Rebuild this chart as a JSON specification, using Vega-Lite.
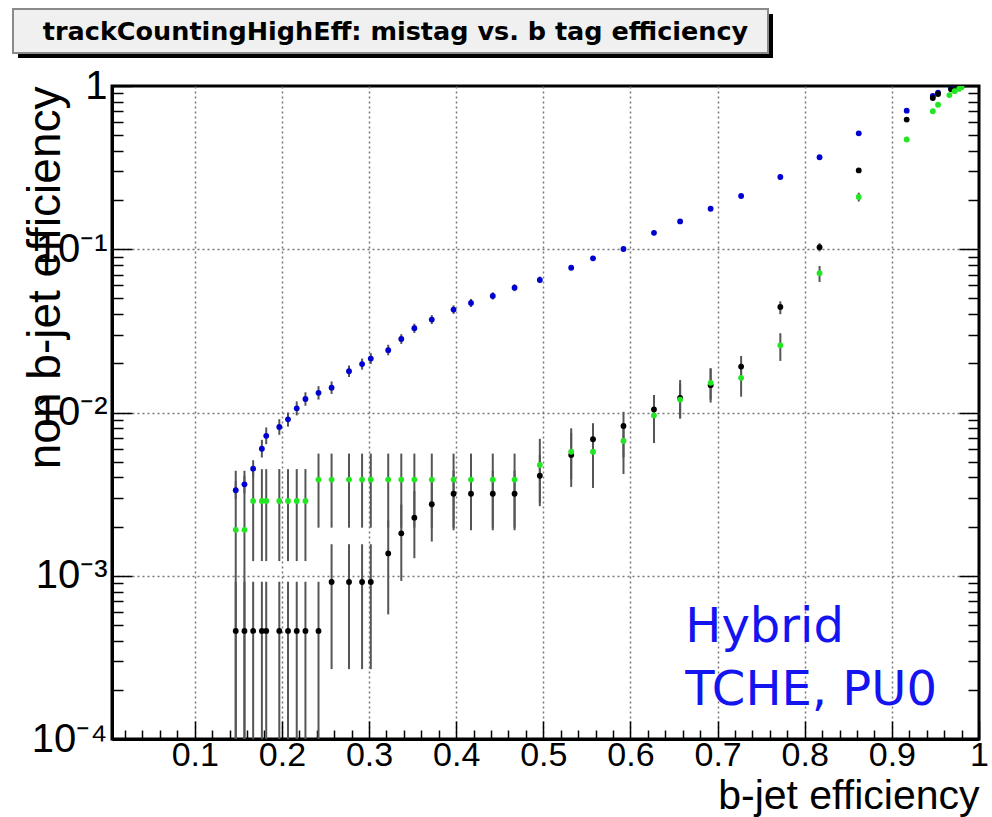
{
  "$schema": "https://vega.github.io/schema/vega-lite/v6.json",
  "background": "white",
  "padding": {"left": 12, "top": 8, "right": 5, "bottom": 0},
  "spacing": 6,
  "config": {"view": {"stroke": null}, "font": "Liberation Sans"},
  "datasets": {
    "pts": [
      {"s": "blue", "x": 0.147, "y": 0.00334, "lo": 0.00295, "hi": 0.0038},
      {"s": "blue", "x": 0.157, "y": 0.00363, "lo": 0.0032, "hi": 0.0041},
      {"s": "blue", "x": 0.167, "y": 0.00453, "lo": 0.004, "hi": 0.0051},
      {"s": "blue", "x": 0.177, "y": 0.006, "lo": 0.0053, "hi": 0.0068},
      {"s": "blue", "x": 0.182, "y": 0.0072, "lo": 0.0064, "hi": 0.0081},
      {"s": "blue", "x": 0.197, "y": 0.00815, "lo": 0.0073, "hi": 0.0091},
      {"s": "blue", "x": 0.207, "y": 0.00908, "lo": 0.0082, "hi": 0.01},
      {"s": "blue", "x": 0.217, "y": 0.0106, "lo": 0.0096, "hi": 0.0117},
      {"s": "blue", "x": 0.227, "y": 0.0121, "lo": 0.011, "hi": 0.0133},
      {"s": "blue", "x": 0.242, "y": 0.0132, "lo": 0.012, "hi": 0.0145},
      {"s": "blue", "x": 0.257, "y": 0.0142, "lo": 0.013, "hi": 0.0155},
      {"s": "blue", "x": 0.277, "y": 0.0179, "lo": 0.0165, "hi": 0.0194},
      {"s": "blue", "x": 0.292, "y": 0.0198, "lo": 0.0183, "hi": 0.0214},
      {"s": "blue", "x": 0.302, "y": 0.0214, "lo": 0.0198, "hi": 0.0231},
      {"s": "blue", "x": 0.322, "y": 0.0241, "lo": 0.0224, "hi": 0.026},
      {"s": "blue", "x": 0.337, "y": 0.0282, "lo": 0.0263, "hi": 0.0302},
      {"s": "blue", "x": 0.352, "y": 0.0328, "lo": 0.0307, "hi": 0.035},
      {"s": "blue", "x": 0.372, "y": 0.0371, "lo": 0.0348, "hi": 0.0395},
      {"s": "blue", "x": 0.397, "y": 0.0427, "lo": 0.0402, "hi": 0.0453},
      {"s": "blue", "x": 0.417, "y": 0.0469, "lo": 0.0443, "hi": 0.0496},
      {"s": "blue", "x": 0.442, "y": 0.0518, "lo": 0.0492, "hi": 0.0545},
      {"s": "blue", "x": 0.467, "y": 0.0582, "lo": 0.0554, "hi": 0.061},
      {"s": "blue", "x": 0.496, "y": 0.0649, "lo": 0.062, "hi": 0.068},
      {"s": "blue", "x": 0.532, "y": 0.0771, "lo": 0.074, "hi": 0.08},
      {"s": "blue", "x": 0.557, "y": 0.088, "lo": 0.085, "hi": 0.091},
      {"s": "blue", "x": 0.592, "y": 0.1004, "lo": 0.097, "hi": 0.104},
      {"s": "blue", "x": 0.627, "y": 0.126, "lo": 0.122, "hi": 0.13},
      {"s": "blue", "x": 0.657, "y": 0.148, "lo": 0.144, "hi": 0.152},
      {"s": "blue", "x": 0.692, "y": 0.177, "lo": 0.172, "hi": 0.182},
      {"s": "blue", "x": 0.727, "y": 0.212, "lo": 0.207, "hi": 0.217},
      {"s": "blue", "x": 0.772, "y": 0.277, "lo": 0.271, "hi": 0.283},
      {"s": "blue", "x": 0.817, "y": 0.366, "lo": 0.36, "hi": 0.372},
      {"s": "blue", "x": 0.862, "y": 0.513, "lo": 0.506, "hi": 0.52},
      {"s": "blue", "x": 0.917, "y": 0.706, "lo": 0.698, "hi": 0.714},
      {"s": "blue", "x": 0.947, "y": 0.87, "lo": 0.862, "hi": 0.878},
      {"s": "blue", "x": 0.953, "y": 0.91, "lo": 0.903, "hi": 0.917},
      {"s": "blue", "x": 0.968, "y": 0.965, "lo": 0.96, "hi": 0.97},
      {"s": "blue", "x": 0.975, "y": 0.985, "lo": 0.981, "hi": 0.989},
      {"s": "blue", "x": 0.98, "y": 0.995, "lo": 0.992, "hi": 0.998},

      {"s": "black", "x": 0.147, "y": 0.000459, "lo": 0.00001, "hi": 0.00092},
      {"s": "black", "x": 0.157, "y": 0.000459, "lo": 0.00001, "hi": 0.00092},
      {"s": "black", "x": 0.167, "y": 0.000459, "lo": 0.00001, "hi": 0.00092},
      {"s": "black", "x": 0.177, "y": 0.000459, "lo": 0.00001, "hi": 0.00092},
      {"s": "black", "x": 0.182, "y": 0.000459, "lo": 0.00001, "hi": 0.00092},
      {"s": "black", "x": 0.197, "y": 0.000459, "lo": 0.00001, "hi": 0.00092},
      {"s": "black", "x": 0.207, "y": 0.000459, "lo": 0.00001, "hi": 0.00092},
      {"s": "black", "x": 0.217, "y": 0.000459, "lo": 0.00001, "hi": 0.00092},
      {"s": "black", "x": 0.227, "y": 0.000459, "lo": 0.00001, "hi": 0.00092},
      {"s": "black", "x": 0.242, "y": 0.000459, "lo": 0.00001, "hi": 0.00092},
      {"s": "black", "x": 0.257, "y": 0.000916, "lo": 0.000268, "hi": 0.00156},
      {"s": "black", "x": 0.277, "y": 0.000916, "lo": 0.000268, "hi": 0.00156},
      {"s": "black", "x": 0.292, "y": 0.000916, "lo": 0.000268, "hi": 0.00156},
      {"s": "black", "x": 0.302, "y": 0.000916, "lo": 0.000268, "hi": 0.00156},
      {"s": "black", "x": 0.322, "y": 0.00137, "lo": 0.00058, "hi": 0.00218},
      {"s": "black", "x": 0.337, "y": 0.00182, "lo": 0.00093, "hi": 0.00273},
      {"s": "black", "x": 0.352, "y": 0.00227, "lo": 0.00128, "hi": 0.0033},
      {"s": "black", "x": 0.372, "y": 0.00274, "lo": 0.00162, "hi": 0.00385},
      {"s": "black", "x": 0.397, "y": 0.00318, "lo": 0.0019, "hi": 0.0044},
      {"s": "black", "x": 0.417, "y": 0.00318, "lo": 0.0019, "hi": 0.0044},
      {"s": "black", "x": 0.442, "y": 0.00318, "lo": 0.0019, "hi": 0.0044},
      {"s": "black", "x": 0.467, "y": 0.00318, "lo": 0.0019, "hi": 0.0044},
      {"s": "black", "x": 0.496, "y": 0.0041, "lo": 0.00267, "hi": 0.0055},
      {"s": "black", "x": 0.532, "y": 0.0055, "lo": 0.0035, "hi": 0.008},
      {"s": "black", "x": 0.557, "y": 0.00686, "lo": 0.0043, "hi": 0.0086},
      {"s": "black", "x": 0.592, "y": 0.00827, "lo": 0.0053, "hi": 0.0101},
      {"s": "black", "x": 0.627, "y": 0.01045, "lo": 0.0075, "hi": 0.0128},
      {"s": "black", "x": 0.657, "y": 0.0123, "lo": 0.0092, "hi": 0.0158},
      {"s": "black", "x": 0.692, "y": 0.0147, "lo": 0.0115, "hi": 0.0187},
      {"s": "black", "x": 0.727, "y": 0.0191, "lo": 0.016, "hi": 0.0222},
      {"s": "black", "x": 0.772, "y": 0.0443, "lo": 0.04, "hi": 0.048},
      {"s": "black", "x": 0.817, "y": 0.103, "lo": 0.097, "hi": 0.109},
      {"s": "black", "x": 0.862, "y": 0.304, "lo": 0.294, "hi": 0.314},
      {"s": "black", "x": 0.917, "y": 0.623, "lo": 0.61, "hi": 0.636},
      {"s": "black", "x": 0.947, "y": 0.844, "lo": 0.835, "hi": 0.853},
      {"s": "black", "x": 0.953, "y": 0.893, "lo": 0.885, "hi": 0.901},
      {"s": "black", "x": 0.968, "y": 0.955, "lo": 0.95, "hi": 0.96},
      {"s": "black", "x": 0.975, "y": 0.975, "lo": 0.971, "hi": 0.979},
      {"s": "black", "x": 0.98, "y": 0.99, "lo": 0.987, "hi": 0.993},

      {"s": "green", "x": 0.147, "y": 0.00191, "lo": 0.00001, "hi": 0.0044},
      {"s": "green", "x": 0.157, "y": 0.00191, "lo": 0.00001, "hi": 0.0044},
      {"s": "green", "x": 0.167, "y": 0.00287, "lo": 0.00123, "hi": 0.0045},
      {"s": "green", "x": 0.177, "y": 0.00287, "lo": 0.00123, "hi": 0.0045},
      {"s": "green", "x": 0.182, "y": 0.00287, "lo": 0.00123, "hi": 0.0045},
      {"s": "green", "x": 0.197, "y": 0.00287, "lo": 0.00123, "hi": 0.0045},
      {"s": "green", "x": 0.207, "y": 0.00287, "lo": 0.00123, "hi": 0.0045},
      {"s": "green", "x": 0.217, "y": 0.00287, "lo": 0.00123, "hi": 0.0045},
      {"s": "green", "x": 0.227, "y": 0.00287, "lo": 0.00123, "hi": 0.0045},
      {"s": "green", "x": 0.242, "y": 0.00388, "lo": 0.00197, "hi": 0.0056},
      {"s": "green", "x": 0.257, "y": 0.00388, "lo": 0.00197, "hi": 0.0056},
      {"s": "green", "x": 0.277, "y": 0.00388, "lo": 0.00197, "hi": 0.0056},
      {"s": "green", "x": 0.292, "y": 0.00388, "lo": 0.00197, "hi": 0.0056},
      {"s": "green", "x": 0.302, "y": 0.00388, "lo": 0.00197, "hi": 0.0056},
      {"s": "green", "x": 0.322, "y": 0.00388, "lo": 0.00197, "hi": 0.0056},
      {"s": "green", "x": 0.337, "y": 0.00388, "lo": 0.00197, "hi": 0.0056},
      {"s": "green", "x": 0.352, "y": 0.00388, "lo": 0.00197, "hi": 0.0056},
      {"s": "green", "x": 0.372, "y": 0.00388, "lo": 0.00197, "hi": 0.0056},
      {"s": "green", "x": 0.397, "y": 0.00388, "lo": 0.00197, "hi": 0.0056},
      {"s": "green", "x": 0.417, "y": 0.00388, "lo": 0.00197, "hi": 0.0056},
      {"s": "green", "x": 0.442, "y": 0.00388, "lo": 0.00197, "hi": 0.0056},
      {"s": "green", "x": 0.467, "y": 0.00388, "lo": 0.00197, "hi": 0.0056},
      {"s": "green", "x": 0.496, "y": 0.00477, "lo": 0.0028, "hi": 0.0069},
      {"s": "green", "x": 0.532, "y": 0.00575, "lo": 0.0039, "hi": 0.0075},
      {"s": "green", "x": 0.557, "y": 0.00575, "lo": 0.00345, "hi": 0.0078},
      {"s": "green", "x": 0.592, "y": 0.00669, "lo": 0.0042, "hi": 0.0085},
      {"s": "green", "x": 0.627, "y": 0.0096, "lo": 0.0065, "hi": 0.012},
      {"s": "green", "x": 0.657, "y": 0.012, "lo": 0.0092, "hi": 0.015},
      {"s": "green", "x": 0.692, "y": 0.0152, "lo": 0.012, "hi": 0.0185},
      {"s": "green", "x": 0.727, "y": 0.0163, "lo": 0.0125, "hi": 0.02},
      {"s": "green", "x": 0.772, "y": 0.0258, "lo": 0.0207, "hi": 0.0306},
      {"s": "green", "x": 0.817, "y": 0.0713, "lo": 0.063, "hi": 0.079},
      {"s": "green", "x": 0.862, "y": 0.209, "lo": 0.196, "hi": 0.222},
      {"s": "green", "x": 0.917, "y": 0.47, "lo": 0.455, "hi": 0.485},
      {"s": "green", "x": 0.947, "y": 0.7, "lo": 0.685, "hi": 0.715},
      {"s": "green", "x": 0.953, "y": 0.768, "lo": 0.755, "hi": 0.781},
      {"s": "green", "x": 0.966, "y": 0.88, "lo": 0.87, "hi": 0.89},
      {"s": "green", "x": 0.972, "y": 0.93, "lo": 0.921, "hi": 0.939},
      {"s": "green", "x": 0.977, "y": 0.96, "lo": 0.953, "hi": 0.967},
      {"s": "green", "x": 0.98, "y": 0.985, "lo": 0.98, "hi": 0.99}
    ]
  },
  "vconcat": [
    {
      "width": 755,
      "height": 44,
      "data": {"values": [{"t": "trackCountingHighEff: mistag vs. b tag efficiency"}]},
      "layer": [
        {"mark": {"type": "rect", "color": "black", "xOffset": -94, "x2Offset": -94, "yOffset": 5, "y2Offset": 5},
         "encoding": {"x": {"value": 0}, "x2": {"value": "width"}, "y": {"value": 0}, "y2": {"value": "height"}}},
        {"mark": {"type": "rect", "fill": "#f0f0f0", "stroke": "#8a8a8a", "strokeWidth": 2, "xOffset": -99, "x2Offset": -99},
         "encoding": {"x": {"value": 0}, "x2": {"value": "width"}, "y": {"value": 0}, "y2": {"value": "height"}}},
        {"mark": {"type": "text", "font": "DejaVu Sans", "fontWeight": "bold", "fontSize": 25.5, "color": "black", "align": "center", "baseline": "middle", "dx": -94, "dy": 1},
         "encoding": {"text": {"field": "t"}}}
      ]
    },
    {
      "width": 867,
      "height": 653,
      "view": {"stroke": "black", "strokeWidth": 3},
      "data": {"name": "pts"},
      "layer": [
        {
          "mark": {"type": "rule", "color": "#555555", "strokeWidth": 2, "clip": true},
          "encoding": {
            "x": {"field": "x", "type": "quantitative",
              "scale": {"domain": [0.005, 1], "nice": false, "zero": false},
              "axis": {
                "values": [0.02,0.04,0.06,0.08,0.1,0.12,0.14,0.16,0.18,0.2,0.22,0.24,0.26,0.28,0.3,0.32,0.34,0.36,0.38,0.4,0.42,0.44,0.46,0.48,0.5,0.52,0.54,0.56,0.58,0.6,0.62,0.64,0.66,0.68,0.7,0.72,0.74,0.76,0.78,0.8,0.82,0.84,0.86,0.88,0.9,0.92,0.94,0.96,0.98,1],
                "tickCount": 200,
                "labelExpr": "abs(datum.value*10 - round(datum.value*10)) < 0.001 ? (datum.value > 0.999 ? '1' : format(datum.value, '.1f')) : ''",
                "tickSize": {"condition": {"test": "abs(datum.value*10 - round(datum.value*10)) < 0.001", "value": -18}, "value": -9},
                "tickColor": "black", "tickWidth": 1.5,
                "grid": true,
                "gridOpacity": {"condition": {"test": "abs(datum.value*10 - round(datum.value*10)) < 0.001 && datum.value < 0.999", "value": 1}, "value": 0},
                "gridColor": "#777777", "gridDash": [2, 3], "gridWidth": 1.5,
                "domainColor": "black", "domainWidth": 3,
                "labelFont": "Liberation Sans", "labelFontSize": 34, "labelColor": "black", "labelPadding": 17,
                "labelFlush": false, "labelOverlap": false,
                "title": "b-jet efficiency", "titleFont": "Liberation Sans", "titleFontSize": 41, "titleFontWeight": "normal", "titleColor": "black",
                "titleAnchor": "end", "titleAlign": "right", "titleBaseline": "alphabetic", "titleY": 69
              }
            },
            "y": {"field": "lo", "type": "quantitative",
              "scale": {"type": "log", "domain": [0.0001, 1], "nice": false},
              "axis": {
                "values": [0.0001,0.0002,0.0003,0.0004,0.0005,0.0006,0.0007,0.0008,0.0009,0.001,0.002,0.003,0.004,0.005,0.006,0.007,0.008,0.009,0.01,0.02,0.03,0.04,0.05,0.06,0.07,0.08,0.09,0.1,0.2,0.3,0.4,0.5,0.6,0.7,0.8,0.9,1],
                "tickCount": 200,
                "labelExpr": "datum.value > 0.999 ? '1' : abs(datum.value - 0.1) < 1e-9 ? '10⁻¹' : abs(datum.value - 0.01) < 1e-10 ? '10⁻²' : abs(datum.value - 0.001) < 1e-11 ? '10⁻³' : abs(datum.value - 0.0001) < 1e-12 ? '10⁻⁴' : ''",
                "tickSize": {"condition": {"test": "abs(log(datum.value)/LN10 - round(log(datum.value)/LN10)) < 0.001", "value": -20}, "value": -11},
                "tickColor": "black", "tickWidth": 1.5,
                "grid": true,
                "gridOpacity": {"condition": {"test": "abs(log(datum.value)/LN10 - round(log(datum.value)/LN10)) < 0.001 && datum.value > 0.0002 && datum.value < 0.9", "value": 1}, "value": 0},
                "gridColor": "#777777", "gridDash": [2, 3], "gridWidth": 1.5,
                "domainColor": "black", "domainWidth": 3,
                "labelFont": "Liberation Sans", "labelFontSize": 40, "labelColor": "black", "labelPadding": 25,
                "labelOverlap": false, "labelFlush": false,
                "title": "non b-jet efficiency", "titleFont": "Liberation Sans", "titleFontSize": 46, "titleFontWeight": "normal", "titleColor": "black",
                "titleAnchor": "end", "titleBaseline": "alphabetic", "titleX": -53
              }
            },
            "y2": {"field": "hi"}
          }
        },
        {
          "mark": {"type": "circle", "opacity": 1, "size": 34, "clip": true},
          "encoding": {
            "x": {"field": "x", "type": "quantitative"},
            "y": {"field": "y", "type": "quantitative",
              "scale": {"type": "log", "domain": [0.0001, 1], "nice": false},
              "axis": {
                "orient": "right",
                "values": [0.0001,0.0002,0.0003,0.0004,0.0005,0.0006,0.0007,0.0008,0.0009,0.001,0.002,0.003,0.004,0.005,0.006,0.007,0.008,0.009,0.01,0.02,0.03,0.04,0.05,0.06,0.07,0.08,0.09,0.1,0.2,0.3,0.4,0.5,0.6,0.7,0.8,0.9,1],
                "tickCount": 200,
                "labels": false, "domain": false, "grid": false, "title": null,
                "tickSize": {"condition": {"test": "abs(log(datum.value)/LN10 - round(log(datum.value)/LN10)) < 0.001", "value": -20}, "value": -11},
                "tickColor": "black", "tickWidth": 1.5
              }
            },
            "color": {"field": "s", "type": "nominal",
              "scale": {"domain": ["blue", "black", "green"], "range": ["#0000d0", "#000000", "#22e622"]},
              "legend": null}
          }
        },
        {
          "data": {"values": [{}]},
          "mark": {"type": "text", "font": "DejaVu Sans", "fontSize": 48, "color": "#1414f0", "align": "left", "baseline": "alphabetic", "lineHeight": 63, "text": ["Hybrid", "TCHE, PU0"]},
          "encoding": {
            "x": {"datum": 0.663, "type": "quantitative"},
            "y": {"datum": 0.000393, "type": "quantitative", "axis": null}
          }
        }
      ],
      "resolve": {"axis": {"y": "independent"}}
    }
  ]
}
